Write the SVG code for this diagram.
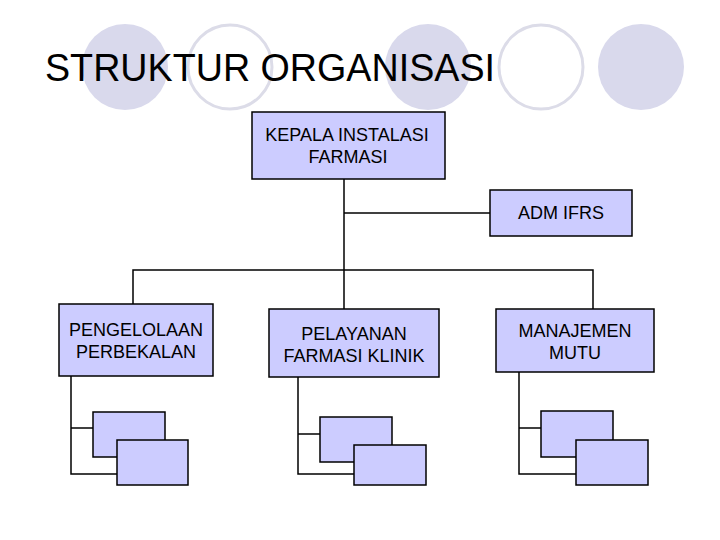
<svg xmlns="http://www.w3.org/2000/svg" width="720" height="540" viewBox="0 0 720 540">
<style>
.bg{fill:#ffffff}
.cf{fill:#D9D9EC}
.co{fill:none;stroke:#DCDCE8;stroke-width:3}
.box{fill:#CCCCFF;stroke:#000;stroke-width:1.5}
.ln{fill:none;stroke:#000;stroke-width:1.5}
.t{font-family:"Liberation Sans",Arial,sans-serif;font-size:18px;fill:#000;text-anchor:middle}
.title{font-family:"Liberation Sans",Arial,sans-serif;font-size:38px;fill:#000}
</style>
<rect class="bg" x="0" y="0" width="720" height="540"/>
<g id="decor">
<circle class="cf" cx="125" cy="67" r="43"/>
<circle class="co" cx="230" cy="67" r="42"/>
<circle class="cf" cx="428" cy="67" r="43"/>
<circle class="co" cx="541" cy="67" r="42"/>
<circle class="cf" cx="641" cy="67" r="43"/>
</g>
<text class="title" x="45" y="81" textLength="450" lengthAdjust="spacingAndGlyphs">STRUKTUR ORGANISASI</text>
<g id="connectors">
<polyline class="ln" points="344,179 344,270"/>
<polyline class="ln" points="344,213 490,213"/>
<polyline class="ln" points="133,304 133,270 593,270 593,309"/>
<polyline class="ln" points="344,270 344,309"/>
<polyline class="ln" points="71,376 71,474 117,474"/>
<polyline class="ln" points="71,428 93,428"/>
<polyline class="ln" points="298,377 298,474 354,474"/>
<polyline class="ln" points="298,434 320,434"/>
<polyline class="ln" points="519,372 519,474 576,474"/>
<polyline class="ln" points="519,428 541,428"/>
</g>
<g id="kepala">
<rect class="box" x="252" y="112" width="193" height="67"/>
<text class="t" x="347" y="141">KEPALA INSTALASI</text>
<text class="t" x="348" y="163">FARMASI</text>
</g>
<g id="adm">
<rect class="box" x="490" y="190" width="142" height="46"/>
<text class="t" x="561" y="219">ADM IFRS</text>
</g>
<g id="pengelolaan">
<rect class="box" x="59" y="304" width="154" height="72"/>
<text class="t" x="136" y="336">PENGELOLAAN</text>
<text class="t" x="136" y="358">PERBEKALAN</text>
</g>
<g id="pelayanan">
<rect class="box" x="269" y="309" width="170" height="68"/>
<text class="t" x="354" y="340">PELAYANAN</text>
<text class="t" x="354" y="362">FARMASI KLINIK</text>
</g>
<g id="manajemen">
<rect class="box" x="496" y="309" width="158" height="63"/>
<text class="t" x="575" y="337">MANAJEMEN</text>
<text class="t" x="575" y="359">MUTU</text>
</g>
<g id="sub-pengelolaan-1"><rect class="box" x="93" y="412" width="72" height="45"/></g>
<g id="sub-pengelolaan-2"><rect class="box" x="117" y="440" width="71" height="45"/></g>
<g id="sub-pelayanan-1"><rect class="box" x="320" y="417" width="72" height="45"/></g>
<g id="sub-pelayanan-2"><rect class="box" x="354" y="445" width="72" height="40"/></g>
<g id="sub-manajemen-1"><rect class="box" x="541" y="411" width="72" height="46"/></g>
<g id="sub-manajemen-2"><rect class="box" x="576" y="440" width="72" height="45"/></g>
</svg>
